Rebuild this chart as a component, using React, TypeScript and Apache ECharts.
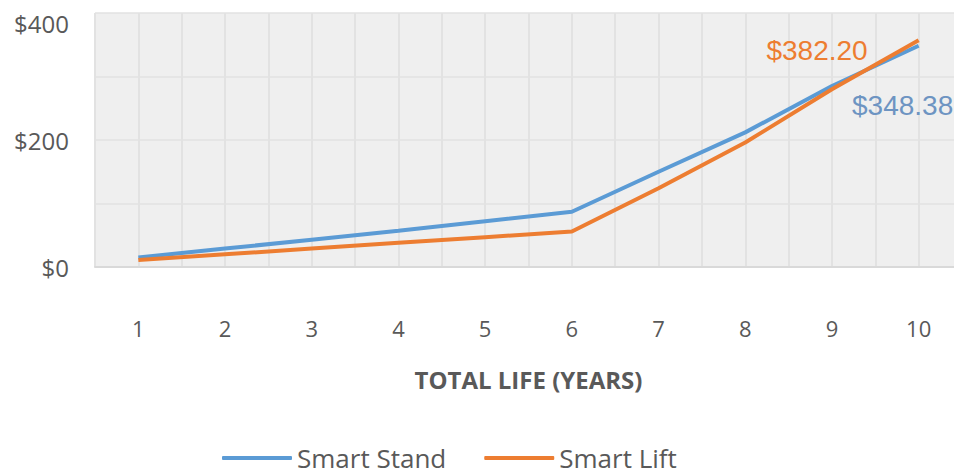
import React, { useEffect, useRef } from "react";
import * as echarts from "echarts";

const years = [1, 2, 3, 4, 5, 6, 7, 8, 9, 10];
const smartStand = [15, 29, 43, 57, 72, 87, 150, 212, 285, 348.38];
const smartLift = [11, 20, 29, 38, 47, 56, 124, 196, 280, 357];
const seriesNames = ["Smart Stand", "Smart Lift"];
const endLabels = ["$348.38", "$382.20"];
const yTickLabels = ["$0", "", "$200", "", "$400"];
const xAxisTitle = "TOTAL LIFE (YEARS)";

const BLUE = "#5b9bd5";
const ORANGE = "#ed7d31";
const TEXT = "#595959";

export default function App() {
  const ref = useRef<HTMLDivElement>(null);
  useEffect(() => {
    if (!ref.current) return;
    const chart = echarts.init(ref.current, undefined, { renderer: "svg" });
    const toPts = (vals: number[]) => years.map((y, i) => [y, vals[i]]);
    const last = years.length - 1;
    const standData: any[] = toPts(smartStand);
    standData[last] = {
      value: standData[last],
      label: {
        show: true,
        formatter: endLabels[0],
        position: "bottom",
        offset: [-16, 41],
        color: "#6d94c2",
        fontSize: 28,
        fontFamily: "Liberation Sans Narrow, Liberation Sans, Arial",
      },
    };
    const liftData: any[] = toPts(smartLift);
    liftData[last] = {
      value: liftData[last],
      label: {
        show: true,
        formatter: endLabels[1],
        position: "left",
        offset: [-46, 10],
        color: ORANGE,
        fontSize: 28,
        fontFamily: "Liberation Sans Narrow, Liberation Sans, Arial",
      },
    };
    chart.setOption({
      animation: false,
      grid: {
        left: 95,
        top: 13,
        right: -8,
        bottom: 209,
        show: true,
        backgroundColor: "#efefef",
        borderWidth: 0,
      },
      xAxis: {
        type: "value",
        min: 0.5,
        max: 10.5,
        interval: 0.5,
        name: xAxisTitle,
        nameLocation: "middle",
        nameGap: 100,
        nameTextStyle: {
          color: TEXT,
          fontSize: 24,
          fontWeight: "bold",
          fontFamily: "Open Sans",
        },
        axisLine: { show: true, lineStyle: { color: "#d9d9d9", width: 2 } },
        axisTick: { show: false },
        splitLine: { show: true, lineStyle: { color: "#e2e2e2", width: 2 } },
        axisLabel: {
          color: TEXT,
          fontSize: 22,
          fontFamily: "Open Sans",
          margin: 50,
          formatter: (v: number) => (Number.isInteger(v) && v >= 1 && v <= 10 ? String(v) : ""),
          showMinLabel: false,
          showMaxLabel: false,
        },
      },
      yAxis: {
        type: "value",
        min: 0,
        max: 400,
        interval: 100,
        axisLine: { show: false },
        axisTick: { show: false },
        splitLine: { show: true, lineStyle: { color: "#e2e2e2", width: 1.5 } },
        axisLabel: {
          color: TEXT,
          fontSize: 24,
          fontFamily: "Open Sans",
          margin: 26,
          formatter: (v: number) => {
            const t = yTickLabels[Math.round(v / 100)] ?? "";
            return v === 400 ? "{t|" + t + "}" : t;
          },
          rich: {
            t: { color: TEXT, fontSize: 24, fontFamily: "Open Sans", padding: [20, 0, 0, 0] },
          },
        },
      },
      legend: {
        bottom: 0,
        left: 217,
        itemWidth: 70,
        itemHeight: 4,
        itemGap: 38,
        icon: "roundRect",
        textStyle: { color: TEXT, fontSize: 26, fontFamily: "Open Sans" },
        data: seriesNames,
      },
      series: [
        {
          name: seriesNames[0],
          type: "line",
          data: standData,
          symbol: "circle",
          symbolSize: 0,
          showSymbol: true,
          lineStyle: { color: BLUE, width: 4 },
          itemStyle: { color: BLUE },
        },
        {
          name: seriesNames[1],
          type: "line",
          data: liftData,
          symbol: "circle",
          symbolSize: 0,
          showSymbol: true,
          lineStyle: { color: ORANGE, width: 4 },
          itemStyle: { color: ORANGE },
        },
      ],
    });
    return () => chart.dispose();
  }, []);
  return <div ref={ref} style={{ width: 962, height: 476, margin: -8 }} />;
}
